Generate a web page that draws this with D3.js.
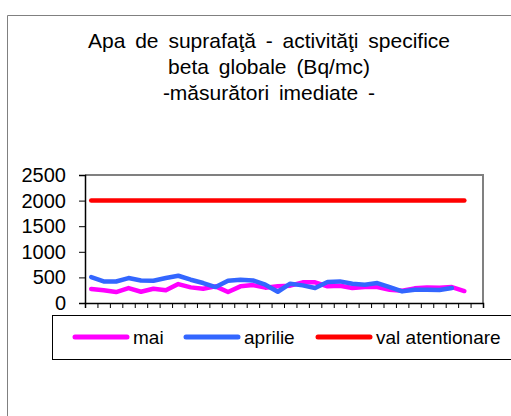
<!DOCTYPE html>
<html>
<head>
<meta charset="utf-8">
<script src="https://cdn.jsdelivr.net/npm/d3@7"></script>
<style>
  body { margin: 0; background: #fff; }
  svg { display: block; font-family: Arial, "Liberation Sans", sans-serif; }
</style>
</head>
<body>
<svg id="chart" width="511" height="416"></svg>
<script>
// values (Bq/mc), one per day
const maiValues = [273, 247, 214, 292, 220, 279, 247, 370, 305, 279, 325, 214, 325, 350, 300, 325,
                   338, 403, 403, 325, 338, 292, 312, 312, 260, 240, 286, 305, 300, 312, 234];
const aprilieValues = [506, 422, 420, 487, 440, 435, 487, 532, 455, 390, 312, 435, 455, 440, 357,
                       220, 377, 344, 292, 409, 422, 377, 357, 390, 312, 227, 260, 260, 253, 292];
const alertValues = d3.range(31).map(() => 2000);
const categoryCount = 32;
const yTicks = [0, 500, 1000, 1500, 2000, 2500];
const titleLines = ["Apa de suprafaţă - activităţi specifice", "beta globale (Bq/mc)", "-măsurători imediate -"];

const series = [
    {name: "mai", values: maiValues, color: "#ff00ff"},
    {name: "aprilie", values: aprilieValues, color: "#3366ff"},
    {name: "val atentionare", values: alertValues, color: "#ff0000"}
];

let svg = d3.select("#chart");

// outer chart frame (only left/top visible)
svg.append("path")
    .attr("d", "M7.5,416 V15.5 H511")
    .attr("fill", "none")
    .attr("stroke", "#808080")
    .attr("stroke-width", 1);

// title
svg.append("g").selectAll("text")
    .data(titleLines)
    .enter().append("text")
    .attr("x", 269)
    .attr("y", (d, i) => 48 + i * 25.8)
    .attr("text-anchor", "middle")
    .style("font-size", "21px")
    .style("word-spacing", "4px")
    .text(d => d);

let plot = {left: 85, right: 483, top: 175, bottom: 303};

let x = d3.scaleLinear().domain([0, categoryCount]).range([plot.left, plot.right]);
let y = d3.scaleLinear().domain([0, 2500]).range([plot.bottom, plot.top]);

// plot frame top / right
svg.append("path")
    .attr("d", "M" + plot.left + "," + plot.top + " H" + plot.right + " V" + plot.bottom)
    .attr("fill", "none")
    .attr("stroke", "#808080")
    .attr("stroke-width", 2);

// axes
let yAxis = d3.axisLeft(y).tickValues(yTicks).tickSize(6).tickPadding(13).tickFormat(d3.format("d"));
let yg = svg.append("g")
    .attr("transform", "translate(" + plot.left + ",0)")
    .call(yAxis);
yg.selectAll("text").style("font-size", "20px").attr("fill", "#000");
yg.select(".domain").attr("stroke", "#000").attr("stroke-width", 1.5);

let xAxis = d3.axisBottom(x).tickValues(d3.range(0, categoryCount + 1)).tickSize(5).tickFormat("");
let xg = svg.append("g")
    .attr("transform", "translate(0," + plot.bottom + ")")
    .call(xAxis);
xg.select(".domain").attr("stroke", "#000").attr("stroke-width", 1.5);
xg.selectAll(".tick line").attr("stroke", "#000");

// lines
let linefcn = d3.line()
    .x((d, i) => x(i + 0.5))
    .y(d => y(d));

svg.append("g").selectAll("path")
    .data(series)
    .enter().append("path")
    .attr("d", d => linefcn(d.values))
    .attr("fill", "none")
    .attr("stroke", d => d.color)
    .attr("stroke-width", 4.5)
    .attr("stroke-linejoin", "round")
    .attr("stroke-linecap", "round");

// legend
let legend = svg.append("g");
legend.append("rect")
    .attr("x", 52.5).attr("y", 315.5)
    .attr("width", 470).attr("height", 44)
    .attr("fill", "#fff")
    .attr("stroke", "#000")
    .attr("stroke-width", 1);

let legendX = [74, 185, 317];
let items = legend.selectAll(".item")
    .data(series)
    .enter().append("g")
    .attr("class", "item")
    .attr("transform", (d, i) => "translate(" + legendX[i] + ",337)");
items.append("line")
    .attr("x1", 1).attr("x2", 53)
    .attr("stroke", d => d.color)
    .attr("stroke-width", 5)
    .attr("stroke-linecap", "round");
items.append("text")
    .attr("x", 59).attr("y", 7)
    .style("font-size", "19px")
    .text(d => d.name);
</script>
</body>
</html>
